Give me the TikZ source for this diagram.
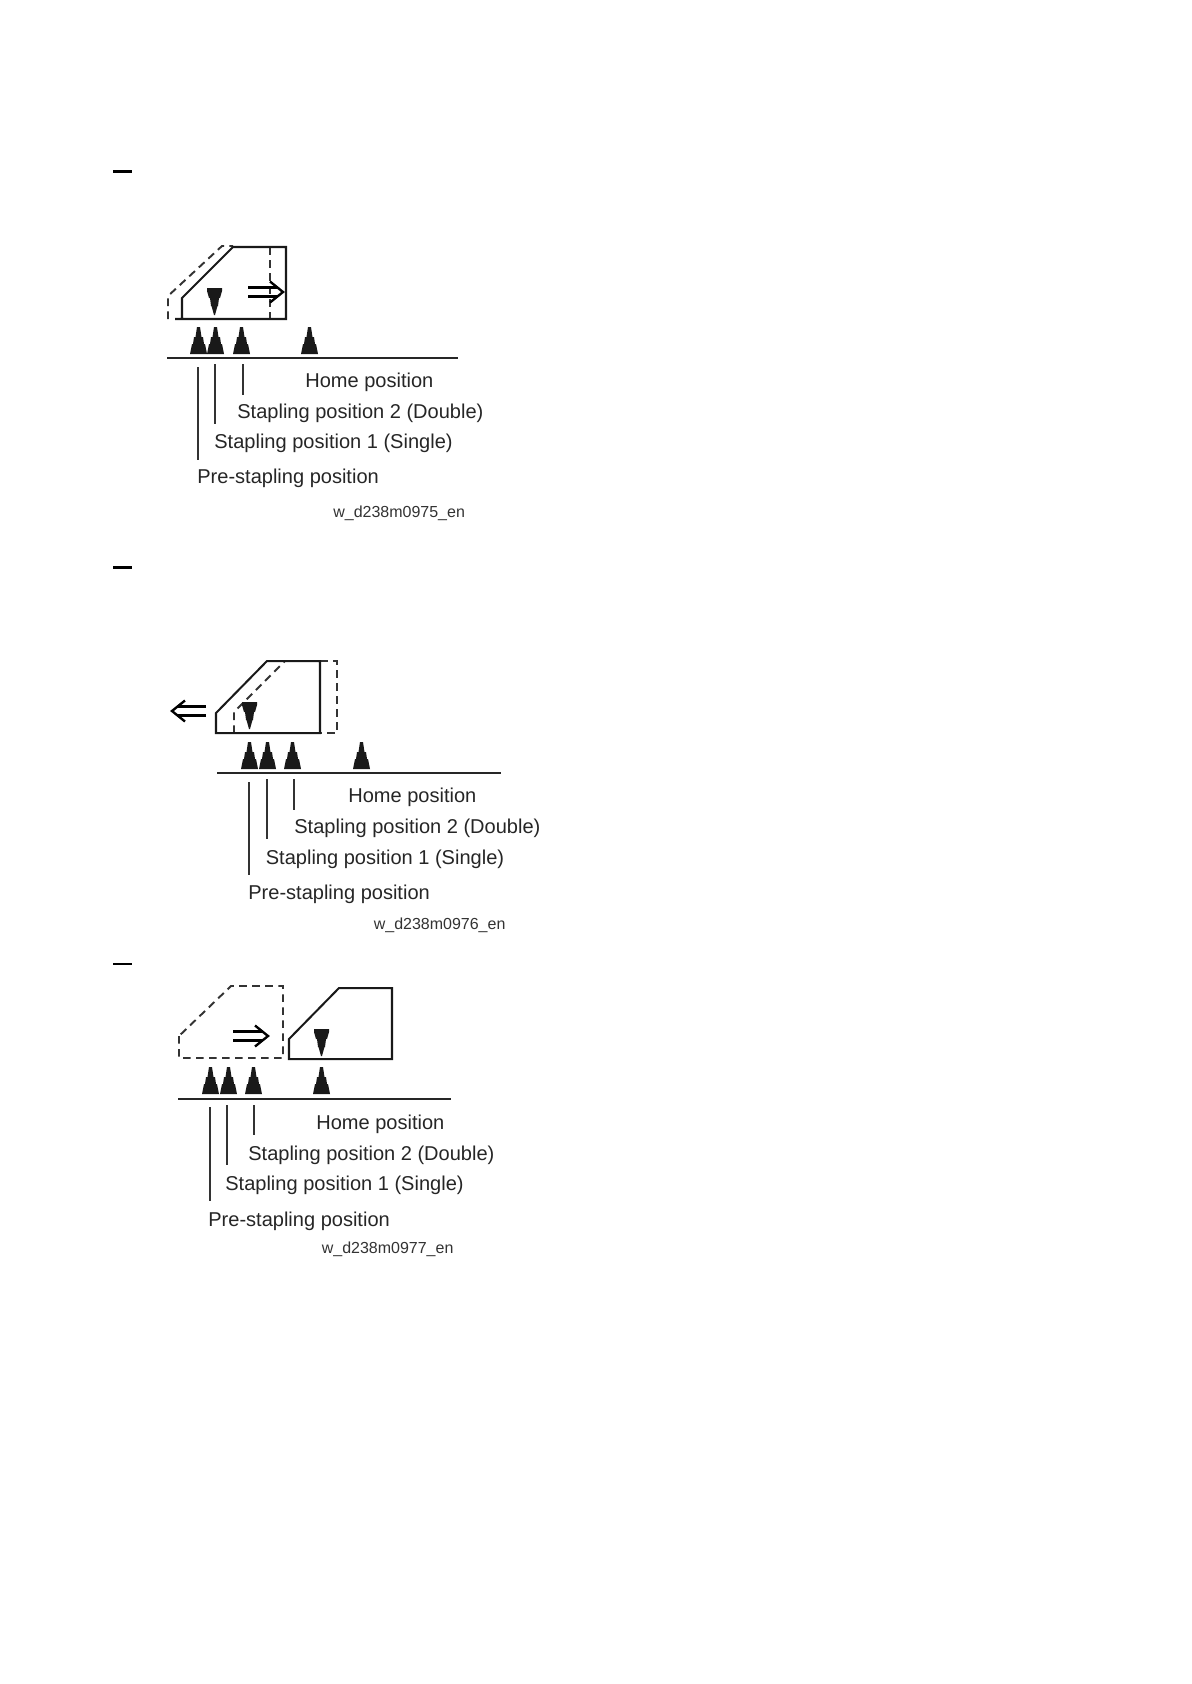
\documentclass[tikz,border=0pt]{standalone}
\usepackage{fontspec}
\setmainfont{Liberation Sans}
\newcommand{\stapleup}[2]{\fill[ink] (#1,#2) -- ++(-1,0) -- ++(-1.5,10) -- ++(-1.5,0) -- ++(-1,7) -- ++(-1,0) -- ++(-2,10) -- ++(17,0) -- ++(-2,-10) -- ++(-1,0) -- ++(-1,-7) -- ++(-1.5,0) -- ++(-1.5,-10) -- cycle;}
\newcommand{\stapledown}[2]{\fill[ink] (#1,#2) -- ++(-1,0) -- ++(-2.5,-9) -- ++(-.5,0) -- ++(-1,-8) -- ++(-1,0) -- ++(-2,-7) -- ++(0,-3) -- ++(15,0) -- ++(0,3) -- ++(-2,7) -- ++(-1,0) -- ++(-1,8) -- ++(-.5,0) -- ++(-2.5,9) -- cycle;}
\tikzset{
  ink/.style={black!90},
  outline/.style={draw=black!90,line width=1.15pt},
  ghost/.style={draw=black!80,line width=1.1pt,dash pattern=on 4.4pt off 3pt},
  baseline rule/.style={draw=black!85,line width=1pt},
  leader/.style={draw=black!80,line width=1pt},
  label text/.style={anchor=base west,inner sep=0pt,text=black!85,font=\fontsize{11.4pt}{13pt}\selectfont},
  code text/.style={anchor=base west,inner sep=0pt,text=black!80,font=\fontsize{9.1pt}{11pt}\selectfont},
  moveline/.style={draw=black,line width=1.35pt},
}
\begin{document}
\begin{tikzpicture}[x=0.02cm,y=-0.02cm]
\useasboundingbox[fill=white] (0,0) rectangle (1191,1684);

\fill[black] (113,169.5) rectangle (132,172.5);
\draw[ghost] (168,319) -- (168,296) -- (222,246) -- (233,246);
\draw[ghost] (270,247) -- (270,319);
\draw[outline] (175,319) -- (182,319) -- (182,298) -- (233,247) -- (286,247) -- (286,319) -- (182,319);
\stapledown{215}{315}
\draw[moveline] (248,287.5) -- (278,287.5);
\draw[moveline] (248,296.5) -- (278,296.5);
\draw[moveline] (270,281.5) -- (283,292) -- (270,302.5);
\stapleup{198}{327}
\stapleup{215}{327}
\stapleup{241}{327}
\stapleup{309}{327}
\draw[baseline rule] (167,358) -- (458,358);
\draw[leader] (198,367) -- (198,460);
\draw[leader] (215,364) -- (215,424);
\draw[leader] (243,364) -- (243,395);
\node[label text] (homeA) at (305,387) {Home position};
\node[label text] (doubleA) at (237,418) {Stapling position 2 (Double)};
\node[label text] (singleA) at (214,448) {Stapling position 1 (Single)};
\node[label text] (preA) at (197,483.5) {Pre-stapling position};
\node[code text] (codeA) at (333,517.5) {w\_d238m0975\_en};

\fill[black] (113,565.5) rectangle (132,568.5);
\draw[ghost] (320,661) -- (337,661) -- (337,733) -- (320,733);
\draw[ghost] (234,733) -- (234,712) -- (285,661);
\draw[outline] (216,713) -- (267,661) -- (320,661) -- (320,733) -- (216,733) -- cycle;
\stapledown{250}{729}
\draw[moveline] (206,706.5) -- (177,706.5);
\draw[moveline] (206,715.5) -- (177,715.5);
\draw[moveline] (185,700.5) -- (172,711) -- (185,721.5);
\stapleup{249}{742}
\stapleup{267}{742}
\stapleup{292}{742}
\stapleup{361}{742}
\draw[baseline rule] (217,773) -- (501,773);
\draw[leader] (249,782) -- (249,875);
\draw[leader] (267,779) -- (267,839);
\draw[leader] (294,779) -- (294,810);
\node[label text] (homeB) at (348,802) {Home position};
\node[label text] (doubleB) at (294,833.5) {Stapling position 2 (Double)};
\node[label text] (singleB) at (265.5,864.5) {Stapling position 1 (Single)};
\node[label text] (preB) at (248,899) {Pre-stapling position};
\node[code text] (codeB) at (373.5,929.5) {w\_d238m0976\_en};

\fill[black] (113,963) rectangle (132,965);
\draw[ghost] (179,1036) -- (179,1058) -- (283,1058) -- (283,986) -- (231,986) -- cycle;
\draw[outline] (289,1039) -- (339,988) -- (392,988) -- (392,1059) -- (289,1059) -- cycle;
\stapledown{322}{1056}
\draw[moveline] (233,1031.5) -- (263,1031.5);
\draw[moveline] (233,1040.5) -- (263,1040.5);
\draw[moveline] (255,1025.5) -- (268,1036) -- (255,1046.5);
\stapleup{210}{1067}
\stapleup{228}{1067}
\stapleup{253}{1067}
\stapleup{321}{1067}
\draw[baseline rule] (178,1099) -- (451,1099);
\draw[leader] (210,1107) -- (210,1201);
\draw[leader] (227,1105) -- (227,1165);
\draw[leader] (254,1105) -- (254,1135);
\node[label text] (homeC) at (316,1129) {Home position};
\node[label text] (doubleC) at (248,1160) {Stapling position 2 (Double)};
\node[label text] (singleC) at (225,1190) {Stapling position 1 (Single)};
\node[label text] (preC) at (208,1226) {Pre-stapling position};
\node[code text] (codeC) at (321.5,1253) {w\_d238m0977\_en};
\end{tikzpicture}
\end{document}
